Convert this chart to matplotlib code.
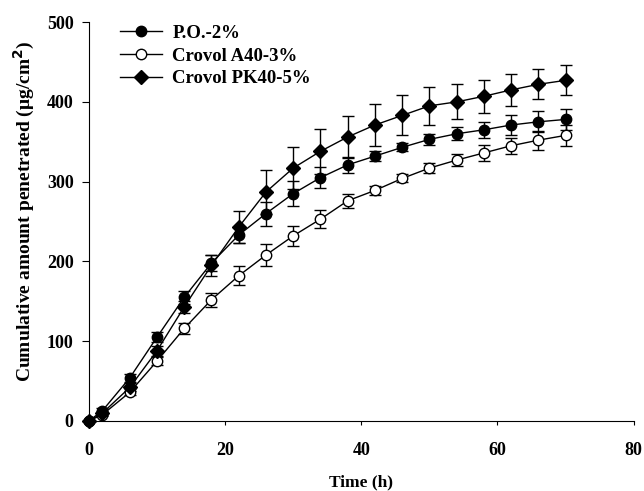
import numpy as np
import matplotlib.pyplot as plt

plt.rcParams['font.family'] = ['Liberation Serif', 'DejaVu Serif']
plt.rcParams['font.weight'] = 'bold'

# sampling times (h)
t = [0, 2, 6, 10, 14, 18, 22, 26, 30, 34, 38, 42, 46, 50, 54, 58, 62, 66, 70]

# P.O.-2%
po = [0, 13, 54, 105, 155, 198, 233, 260, 285, 305, 321, 332, 343, 353, 360, 365, 371, 375, 378]
po_err = [0, 3, 5, 6, 8, 10, 10, 15, 16, 13, 10, 6, 5, 7, 8, 10, 12, 13, 13]

# Crovol A40-3%
a40 = [0, 8, 36, 75, 116, 152, 182, 208, 232, 253, 276, 289, 304, 317, 327, 336, 345, 352, 358]
a40_err = [0, 2, 4, 5, 7, 9, 12, 14, 13, 11, 9, 6, 5, 6, 8, 10, 10, 12, 13]

# Crovol PK40-5%
pk40 = [0, 10, 42, 88, 143, 195, 243, 287, 317, 338, 356, 371, 383, 395, 400, 407, 415, 422, 427]
pk40_err = [0, 3, 5, 6, 8, 13, 20, 27, 26, 28, 26, 26, 25, 24, 22, 21, 20, 19, 19]

fig = plt.figure(figsize=(6.44, 4.91), dpi=100)
ax = fig.add_axes([0.138, 0.1426, 0.846, 0.8124])

common = dict(color='black', linewidth=1, elinewidth=1, capsize=4.5, capthick=1, clip_on=False)
c1 = ax.errorbar(t, po, yerr=po_err, marker='o', markersize=7.5, markerfacecolor='black',
                 markeredgecolor='black', label='P.O.-2%', **common)
c2 = ax.errorbar(t, a40, yerr=a40_err, marker='o', markersize=7.5, markerfacecolor='white',
                 markeredgecolor='black', label='Crovol A40-3%', **common)
c3 = ax.errorbar(t, pk40, yerr=pk40_err, marker='D', markersize=7, markerfacecolor='black',
                 markeredgecolor='black', label='Crovol PK40-5%', **common)

ax.set_xlim(0, 80)
ax.set_ylim(0, 500)
ax.set_xticks([0, 20, 40, 60, 80])
ax.set_yticks([0, 100, 200, 300, 400, 500])
ax.spines['top'].set_visible(False)
ax.spines['right'].set_visible(False)
ax.tick_params(axis='x', direction='out', length=3, labelsize=13, pad=12)
ax.tick_params(axis='y', direction='out', length=5, labelsize=13, pad=6)
for lab in ax.get_xticklabels() + ax.get_yticklabels():
    lab.set_fontweight('bold')

ax.set_xlabel('Time (h)', fontsize=12.5, fontweight='bold')
ax.xaxis.set_label_coords(0.5, -0.135)
ax.set_ylabel('Cumulative amount penetrated (\u03bcg/cm$^2$)', fontsize=14, fontweight='bold')
ax.yaxis.set_label_coords(-0.096, 0.526)

leg = ax.legend(handles=[c1[0], c2[0], c3[0]], labels=['P.O.-2%', 'Crovol A40-3%', 'Crovol PK40-5%'],
                loc='upper left', bbox_to_anchor=(0.043, 1.012), borderaxespad=0, frameon=False,
                fontsize=13.5, handlelength=2.25, labelspacing=0.3, handletextpad=0.55)
for txt in leg.get_texts():
    txt.set_fontweight('bold')

fig.savefig('out.png', dpi=100)
